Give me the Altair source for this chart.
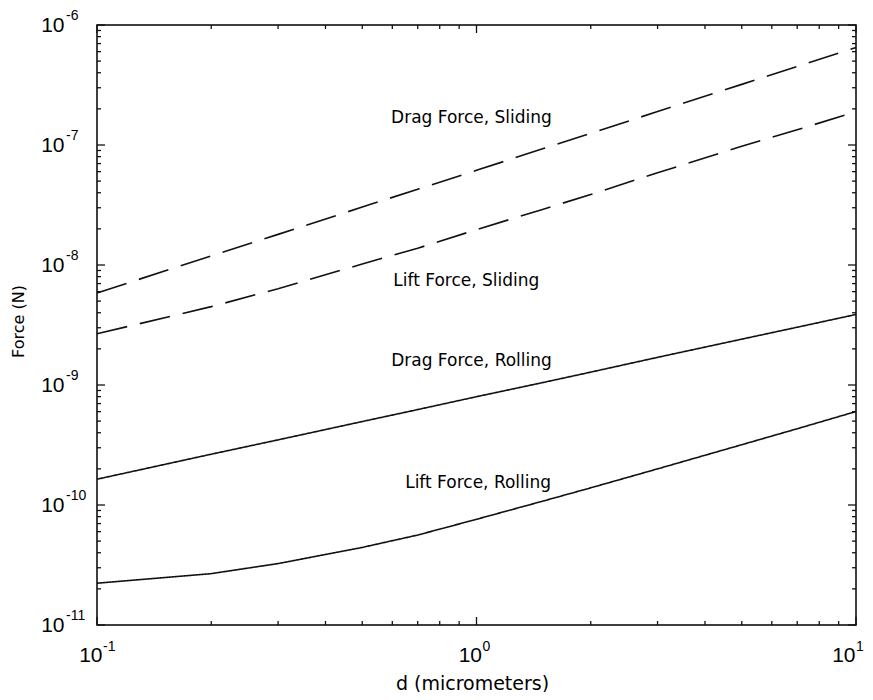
import altair as alt
import pandas as pd

# ---------------- data ----------------
d_um = [0.1, 0.2, 0.3, 0.5, 0.7, 1, 1.5, 2, 3, 5, 7, 10]
drag_sliding = [5.85e-9, 1.19e-8, 1.80e-8, 3.04e-8, 4.28e-8, 6.15e-8,
                9.33e-8, 1.25e-7, 1.90e-7, 3.20e-7, 4.51e-7, 6.50e-7]
lift_sliding = [2.67e-9, 4.50e-9, 6.34e-9, 1.02e-8, 1.38e-8, 1.97e-8,
                2.92e-8, 3.87e-8, 5.87e-8, 9.75e-8, 1.34e-7, 1.89e-7]
drag_rolling = [1.64e-10, 2.65e-10, 3.49e-10, 4.96e-10, 6.24e-10, 7.99e-10,
                1.05e-9, 1.28e-9, 1.70e-9, 2.41e-9, 3.03e-9, 3.87e-9]
lift_rolling = [2.23e-11, 2.68e-11, 3.25e-11, 4.43e-11, 5.62e-11, 7.60e-11,
                1.08e-10, 1.39e-10, 2.00e-10, 3.18e-10, 4.32e-10, 6.01e-10]

series_names = ["Drag Force, Sliding", "Lift Force, Sliding",
                "Drag Force, Rolling", "Lift Force, Rolling"]
label_d = [0.97, 0.94, 0.97, 1.01]
label_force = [1.68e-7, 7.36e-9, 1.58e-9, 1.52e-10]

x_major = [0.1, 1, 10]
x_exponents = ["-1", "0", "1"]
x_minor = [0.2, 0.3, 0.4, 0.5, 0.6, 0.7, 0.8, 0.9, 2, 3, 4, 5, 6, 7, 8, 9]
y_major = [1e-11, 1e-10, 1e-9, 1e-8, 1e-7, 1e-6]
y_exponents = ["-11", "-10", "-9", "-8", "-7", "-6"]
y_minor = [m * 10.0 ** e for e in range(-11, -6) for m in range(2, 10)]

# ---------------- layout / style ----------------
W, H = 759, 600
NUMFONT = "Liberation Sans"
TXTFONT = "DejaVu Sans"
INK = "#111111"
MAJ, MIN = 8, 4

xs = alt.Scale(type="log", domain=[0.1, 10], nice=False)
ys = alt.Scale(type="log", domain=[1e-11, 1e-6], nice=False)

rows = []
for name, vals in zip(series_names, [drag_sliding, lift_sliding, drag_rolling, lift_rolling]):
    for d, f in zip(d_um, vals):
        rows.append({"series": name, "d": d, "force": f})
lines_df = pd.DataFrame(rows)

x_axis = alt.Axis(
    values=x_major, labelExpr="'10'", ticks=False, domain=False,
    grid=False, labelFont=NUMFONT, labelFontSize=21, labelColor="black",
    labelPadding=19, labelFlush=False, labelOverlap=False, labelAlign="right",
    labelOffset={"condition": {"test": "datum.value >= 5", "value": -1}, "value": 5},
    title="d (micrometers)", titleFont=TXTFONT, titleFontSize=19,
    titleFontWeight="normal", titleColor="black",
    titleX=375, titleY=58, titleBaseline="middle", titleAlign="center")
y_axis = alt.Axis(
    values=y_major, labelExpr="'10'", ticks=False, domain=False,
    grid=False, labelFont=NUMFONT, labelFontSize=21, labelColor="black",
    labelPadding=33, labelFlush=False, labelOverlap=False,
    title="Force (N)", titleFont=TXTFONT, titleFontSize=16,
    titleFontWeight="normal", titleColor="black",
    titleX=-79, titleY=296, titleAngle=270, titleBaseline="middle", titleAlign="center")

X = alt.X("d:Q", scale=xs, axis=x_axis, title="d (micrometers)")
Y = alt.Y("force:Q", scale=ys, axis=y_axis, title="Force (N)")

lines = alt.Chart(lines_df).mark_line(color=INK, strokeWidth=1.6).encode(
    x=X, y=Y,
    strokeDash=alt.StrokeDash("series:N", scale=alt.Scale(
        domain=series_names, range=[[31, 13], [31, 13], [1, 0], [1, 0]]), legend=None),
    detail="series:N",
)


def xtick_layers(vals, L):
    df = pd.DataFrame({"d": vals})
    base = alt.Chart(df).mark_rule(color=INK, strokeWidth=1.3)
    return [
        base.encode(x=X, y=alt.value(H), y2=alt.value(H - L)),
        base.encode(x=X, y=alt.value(0), y2=alt.value(L)),
    ]


def ytick_layers(vals, L):
    df = pd.DataFrame({"force": vals})
    base = alt.Chart(df).mark_rule(color=INK, strokeWidth=1.3)
    return [
        base.encode(y=Y, x=alt.value(0), x2=alt.value(L)),
        base.encode(y=Y, x=alt.value(W), x2=alt.value(W - L)),
    ]


# exponents of the tick labels (superscripts)
y_exp_df = pd.DataFrame({"force": y_major, "exp": y_exponents})
y_exp = alt.Chart(y_exp_df).mark_text(
    font=NUMFONT, fontSize=14, color="black", align="left", baseline="middle", dy=-9
).encode(y=Y, x=alt.value(-31), text="exp:N")

x_exp_df = pd.DataFrame({"d": x_major[:-1], "exp": x_exponents[:-1]})
x_exp = alt.Chart(x_exp_df).mark_text(
    font=NUMFONT, fontSize=14, color="black", align="left", baseline="middle", dx=6
).encode(x=X, y=alt.value(H + 22), text="exp:N")
x_exp_last_df = pd.DataFrame({"d": x_major[-1:], "exp": x_exponents[-1:]})
x_exp_last = alt.Chart(x_exp_last_df).mark_text(
    font=NUMFONT, fontSize=14, color="black", align="left", baseline="middle", dx=0
).encode(x=X, y=alt.value(H + 22), text="exp:N")

labels_df = pd.DataFrame({"d": label_d, "force": label_force, "text": series_names})
labels = alt.Chart(labels_df).mark_text(
    font=TXTFONT, fontSize=17, color="black", align="center", baseline="middle"
).encode(x=X, y=Y, text="text:N")

layers = [lines]
layers += xtick_layers(x_major, MAJ) + xtick_layers(x_minor, MIN)
layers += ytick_layers(y_major, MAJ) + ytick_layers(y_minor, MIN)
layers += [y_exp, x_exp, x_exp_last, labels]

chart = alt.layer(*layers).properties(
    width=W, height=H,
    autosize="none",
    padding={"left": 89, "top": 17, "right": 9, "bottom": 67},
    background="white",
).configure_view(stroke="black", strokeWidth=1.5)

chart.save("out.html", embed_options={"renderer": "svg", "actions": False})
